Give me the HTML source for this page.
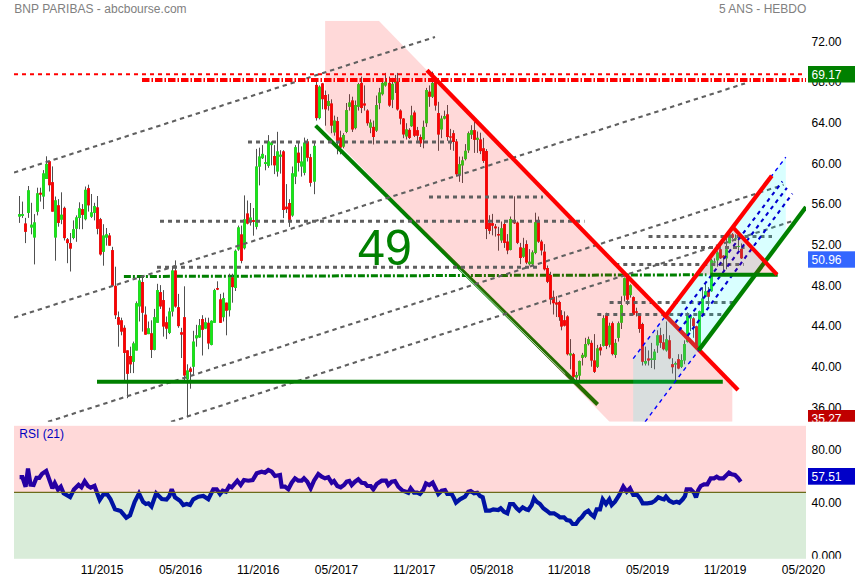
<!DOCTYPE html>
<html><head><meta charset="utf-8"><title>BNP PARIBAS</title>
<style>html,body{margin:0;padding:0;background:#fff}svg{display:block}text{font-family:"Liberation Sans",sans-serif;font-size:12px}</style></head><body>
<svg width="855" height="580" viewBox="0 0 855 580">
<rect width="855" height="580" fill="#fff"/>
<defs><clipPath id="mc"><rect x="14" y="20.8" width="792" height="401.0"/></clipPath><clipPath id="ax"><rect x="806" y="0" width="49" height="421.8"/></clipPath><clipPath id="rx"><rect x="806" y="425" width="49" height="133.8"/></clipPath></defs>
<g clip-path="url(#mc)">
</g>

<g clip-path="url(#mc)">
<line x1="123.9" y1="276.5" x2="706.5" y2="274.8" stroke="#008000" stroke-width="3" stroke-dasharray="7 2 2 2"/>
<line x1="19.5" y1="196.0" x2="19.5" y2="222.9" stroke="#505050" stroke-width="1"/>
<rect x="18.0" y="214.1" width="3" height="2.5" fill="#3cb43c"/>
<rect x="18.5" y="214.1" width="2" height="2.5" fill="#14ec14"/>
<line x1="22.5" y1="201.6" x2="22.5" y2="217.9" stroke="#505050" stroke-width="1"/>
<rect x="21.0" y="214.1" width="3" height="1.8" fill="#3cb43c"/>
<rect x="21.5" y="214.1" width="2" height="1.8" fill="#14ec14"/>
<line x1="25.5" y1="217.9" x2="25.5" y2="243.1" stroke="#505050" stroke-width="1"/>
<rect x="24.0" y="223.5" width="3" height="8.3" fill="#d02828"/>
<rect x="24.5" y="223.5" width="2" height="8.3" fill="#ff0000"/>
<line x1="28.5" y1="186.0" x2="28.5" y2="217.9" stroke="#505050" stroke-width="1"/>
<rect x="27.0" y="190.3" width="3" height="22.6" fill="#3cb43c"/>
<rect x="27.5" y="190.3" width="2" height="22.6" fill="#14ec14"/>
<line x1="31.5" y1="202.8" x2="31.5" y2="234.3" stroke="#505050" stroke-width="1"/>
<rect x="30.0" y="224.7" width="3" height="2.8" fill="#3cb43c"/>
<rect x="30.5" y="224.7" width="2" height="2.8" fill="#14ec14"/>
<line x1="34.5" y1="214.1" x2="34.5" y2="264.4" stroke="#505050" stroke-width="1"/>
<rect x="33.0" y="222.4" width="3" height="15.1" fill="#3cb43c"/>
<rect x="33.5" y="222.4" width="2" height="15.1" fill="#14ec14"/>
<line x1="37.5" y1="187.7" x2="37.5" y2="215.4" stroke="#505050" stroke-width="1"/>
<rect x="36.0" y="193.3" width="3" height="18.4" fill="#3cb43c"/>
<rect x="36.5" y="193.3" width="2" height="18.4" fill="#14ec14"/>
<line x1="40.5" y1="187.7" x2="40.5" y2="201.6" stroke="#505050" stroke-width="1"/>
<rect x="39.0" y="192.8" width="3" height="1.8" fill="#d02828"/>
<rect x="39.5" y="192.8" width="2" height="1.8" fill="#ff0000"/>
<line x1="43.5" y1="170.1" x2="43.5" y2="209.1" stroke="#505050" stroke-width="1"/>
<rect x="42.0" y="173.4" width="3" height="23.1" fill="#3cb43c"/>
<rect x="42.5" y="173.4" width="2" height="23.1" fill="#14ec14"/>
<line x1="46.5" y1="156.3" x2="46.5" y2="178.9" stroke="#505050" stroke-width="1"/>
<rect x="45.0" y="163.9" width="3" height="15.1" fill="#3cb43c"/>
<rect x="45.5" y="163.9" width="2" height="15.1" fill="#14ec14"/>
<line x1="49.5" y1="160.6" x2="49.5" y2="191.5" stroke="#505050" stroke-width="1"/>
<rect x="48.0" y="161.3" width="3" height="23.9" fill="#d02828"/>
<rect x="48.5" y="161.3" width="2" height="23.9" fill="#ff0000"/>
<line x1="52.5" y1="166.4" x2="52.5" y2="211.6" stroke="#505050" stroke-width="1"/>
<rect x="51.0" y="182.2" width="3" height="29.4" fill="#d02828"/>
<rect x="51.5" y="182.2" width="2" height="29.4" fill="#ff0000"/>
<line x1="55.5" y1="196.5" x2="55.5" y2="260.7" stroke="#505050" stroke-width="1"/>
<rect x="54.0" y="200.3" width="3" height="37.2" fill="#3cb43c"/>
<rect x="54.5" y="200.3" width="2" height="37.2" fill="#14ec14"/>
<line x1="58.5" y1="199.1" x2="58.5" y2="226.7" stroke="#505050" stroke-width="1"/>
<rect x="57.0" y="205.3" width="3" height="17.6" fill="#d02828"/>
<rect x="57.5" y="205.3" width="2" height="17.6" fill="#ff0000"/>
<line x1="61.5" y1="192.3" x2="61.5" y2="224.2" stroke="#505050" stroke-width="1"/>
<rect x="60.0" y="214.7" width="3" height="5.0" fill="#3cb43c"/>
<rect x="60.5" y="214.7" width="2" height="5.0" fill="#14ec14"/>
<line x1="64.5" y1="206.6" x2="64.5" y2="240.5" stroke="#505050" stroke-width="1"/>
<rect x="63.0" y="207.9" width="3" height="30.2" fill="#d02828"/>
<rect x="63.5" y="207.9" width="2" height="30.2" fill="#ff0000"/>
<line x1="67.5" y1="238.0" x2="67.5" y2="263.2" stroke="#505050" stroke-width="1"/>
<rect x="66.0" y="239.3" width="3" height="3.8" fill="#d02828"/>
<rect x="66.5" y="239.3" width="2" height="3.8" fill="#ff0000"/>
<line x1="70.5" y1="233.0" x2="70.5" y2="271.5" stroke="#505050" stroke-width="1"/>
<rect x="69.0" y="243.1" width="3" height="5.5" fill="#d02828"/>
<rect x="69.5" y="243.1" width="2" height="5.5" fill="#ff0000"/>
<line x1="73.5" y1="220.4" x2="73.5" y2="239.3" stroke="#505050" stroke-width="1"/>
<rect x="72.0" y="229.2" width="3" height="8.8" fill="#3cb43c"/>
<rect x="72.5" y="229.2" width="2" height="8.8" fill="#14ec14"/>
<line x1="76.5" y1="215.4" x2="76.5" y2="241.8" stroke="#505050" stroke-width="1"/>
<rect x="75.0" y="217.4" width="3" height="11.3" fill="#3cb43c"/>
<rect x="75.5" y="217.4" width="2" height="11.3" fill="#14ec14"/>
<line x1="79.5" y1="202.3" x2="79.5" y2="229.2" stroke="#505050" stroke-width="1"/>
<rect x="78.0" y="208.4" width="3" height="9.6" fill="#3cb43c"/>
<rect x="78.5" y="208.4" width="2" height="9.6" fill="#14ec14"/>
<line x1="82.5" y1="204.1" x2="82.5" y2="229.2" stroke="#505050" stroke-width="1"/>
<rect x="81.0" y="209.1" width="3" height="5.8" fill="#d02828"/>
<rect x="81.5" y="209.1" width="2" height="5.8" fill="#ff0000"/>
<line x1="85.5" y1="186.5" x2="85.5" y2="220.4" stroke="#505050" stroke-width="1"/>
<rect x="84.0" y="189.8" width="3" height="29.4" fill="#3cb43c"/>
<rect x="84.5" y="189.8" width="2" height="29.4" fill="#14ec14"/>
<line x1="88.5" y1="184.7" x2="88.5" y2="211.6" stroke="#505050" stroke-width="1"/>
<rect x="87.0" y="188.2" width="3" height="17.1" fill="#d02828"/>
<rect x="87.5" y="188.2" width="2" height="17.1" fill="#ff0000"/>
<line x1="91.5" y1="194.0" x2="91.5" y2="217.9" stroke="#505050" stroke-width="1"/>
<rect x="90.0" y="212.4" width="3" height="4.3" fill="#3cb43c"/>
<rect x="90.5" y="212.4" width="2" height="4.3" fill="#14ec14"/>
<line x1="94.5" y1="202.8" x2="94.5" y2="220.4" stroke="#505050" stroke-width="1"/>
<rect x="93.0" y="206.1" width="3" height="6.8" fill="#3cb43c"/>
<rect x="93.5" y="206.1" width="2" height="6.8" fill="#14ec14"/>
<line x1="97.5" y1="196.0" x2="97.5" y2="234.3" stroke="#505050" stroke-width="1"/>
<rect x="96.0" y="207.4" width="3" height="21.4" fill="#d02828"/>
<rect x="96.5" y="207.4" width="2" height="21.4" fill="#ff0000"/>
<line x1="100.5" y1="217.9" x2="100.5" y2="255.6" stroke="#505050" stroke-width="1"/>
<rect x="99.0" y="219.2" width="3" height="35.2" fill="#d02828"/>
<rect x="99.5" y="219.2" width="2" height="35.2" fill="#ff0000"/>
<line x1="103.5" y1="224.2" x2="103.5" y2="265.7" stroke="#505050" stroke-width="1"/>
<rect x="102.0" y="235.5" width="3" height="16.3" fill="#3cb43c"/>
<rect x="102.5" y="235.5" width="2" height="16.3" fill="#14ec14"/>
<line x1="106.5" y1="228.0" x2="106.5" y2="245.6" stroke="#505050" stroke-width="1"/>
<rect x="105.0" y="234.3" width="3" height="3.3" fill="#3cb43c"/>
<rect x="105.5" y="234.3" width="2" height="3.3" fill="#14ec14"/>
<line x1="109.5" y1="233.0" x2="109.5" y2="245.6" stroke="#505050" stroke-width="1"/>
<rect x="108.0" y="235.5" width="3" height="10.1" fill="#d02828"/>
<rect x="108.5" y="235.5" width="2" height="10.1" fill="#ff0000"/>
<line x1="112.5" y1="246.8" x2="112.5" y2="287.1" stroke="#505050" stroke-width="1"/>
<rect x="111.0" y="250.1" width="3" height="35.7" fill="#d02828"/>
<rect x="111.5" y="250.1" width="2" height="35.7" fill="#ff0000"/>
<line x1="115.5" y1="266.7" x2="115.5" y2="319.0" stroke="#505050" stroke-width="1"/>
<rect x="114.0" y="285.8" width="3" height="29.4" fill="#d02828"/>
<rect x="114.5" y="285.8" width="2" height="29.4" fill="#ff0000"/>
<line x1="118.5" y1="311.5" x2="118.5" y2="346.7" stroke="#505050" stroke-width="1"/>
<rect x="117.0" y="317.2" width="3" height="7.5" fill="#d02828"/>
<rect x="117.5" y="317.2" width="2" height="7.5" fill="#ff0000"/>
<line x1="121.5" y1="317.7" x2="121.5" y2="335.3" stroke="#505050" stroke-width="1"/>
<rect x="120.0" y="320.3" width="3" height="11.3" fill="#d02828"/>
<rect x="120.5" y="320.3" width="2" height="11.3" fill="#ff0000"/>
<line x1="124.5" y1="325.3" x2="124.5" y2="380.6" stroke="#505050" stroke-width="1"/>
<rect x="123.0" y="327.8" width="3" height="25.1" fill="#d02828"/>
<rect x="123.5" y="327.8" width="2" height="25.1" fill="#ff0000"/>
<line x1="127.5" y1="350.4" x2="127.5" y2="398.2" stroke="#505050" stroke-width="1"/>
<rect x="126.0" y="350.4" width="3" height="23.4" fill="#d02828"/>
<rect x="126.5" y="350.4" width="2" height="23.4" fill="#ff0000"/>
<line x1="130.5" y1="346.7" x2="130.5" y2="373.1" stroke="#505050" stroke-width="1"/>
<rect x="129.0" y="356.0" width="3" height="8.3" fill="#d02828"/>
<rect x="129.5" y="356.0" width="2" height="8.3" fill="#ff0000"/>
<line x1="133.5" y1="341.6" x2="133.5" y2="373.1" stroke="#505050" stroke-width="1"/>
<rect x="132.0" y="343.4" width="3" height="18.4" fill="#3cb43c"/>
<rect x="132.5" y="343.4" width="2" height="18.4" fill="#14ec14"/>
<line x1="136.5" y1="301.4" x2="136.5" y2="350.4" stroke="#505050" stroke-width="1"/>
<rect x="135.0" y="303.2" width="3" height="47.3" fill="#3cb43c"/>
<rect x="135.5" y="303.2" width="2" height="47.3" fill="#14ec14"/>
<line x1="139.5" y1="278.0" x2="139.5" y2="321.5" stroke="#505050" stroke-width="1"/>
<rect x="138.0" y="280.5" width="3" height="25.9" fill="#3cb43c"/>
<rect x="138.5" y="280.5" width="2" height="25.9" fill="#14ec14"/>
<line x1="142.5" y1="277.0" x2="142.5" y2="331.6" stroke="#505050" stroke-width="1"/>
<rect x="141.0" y="282.0" width="3" height="30.7" fill="#d02828"/>
<rect x="141.5" y="282.0" width="2" height="30.7" fill="#ff0000"/>
<line x1="145.5" y1="306.4" x2="145.5" y2="334.6" stroke="#505050" stroke-width="1"/>
<rect x="144.0" y="314.7" width="3" height="19.9" fill="#d02828"/>
<rect x="144.5" y="314.7" width="2" height="19.9" fill="#ff0000"/>
<line x1="148.5" y1="321.5" x2="148.5" y2="334.1" stroke="#505050" stroke-width="1"/>
<rect x="147.0" y="328.3" width="3" height="5.8" fill="#3cb43c"/>
<rect x="147.5" y="328.3" width="2" height="5.8" fill="#14ec14"/>
<line x1="151.5" y1="320.3" x2="151.5" y2="358.0" stroke="#505050" stroke-width="1"/>
<rect x="150.0" y="333.3" width="3" height="16.6" fill="#d02828"/>
<rect x="150.5" y="333.3" width="2" height="16.6" fill="#ff0000"/>
<line x1="154.5" y1="308.9" x2="154.5" y2="350.4" stroke="#505050" stroke-width="1"/>
<rect x="153.0" y="317.2" width="3" height="32.7" fill="#3cb43c"/>
<rect x="153.5" y="317.2" width="2" height="32.7" fill="#14ec14"/>
<line x1="157.5" y1="283.8" x2="157.5" y2="322.8" stroke="#505050" stroke-width="1"/>
<rect x="156.0" y="290.1" width="3" height="32.7" fill="#3cb43c"/>
<rect x="156.5" y="290.1" width="2" height="32.7" fill="#14ec14"/>
<line x1="160.5" y1="285.1" x2="160.5" y2="308.9" stroke="#505050" stroke-width="1"/>
<rect x="159.0" y="292.1" width="3" height="14.3" fill="#d02828"/>
<rect x="159.5" y="292.1" width="2" height="14.3" fill="#ff0000"/>
<line x1="163.5" y1="290.1" x2="163.5" y2="336.6" stroke="#505050" stroke-width="1"/>
<rect x="162.0" y="300.1" width="3" height="26.4" fill="#d02828"/>
<rect x="162.5" y="300.1" width="2" height="26.4" fill="#ff0000"/>
<line x1="166.5" y1="316.5" x2="166.5" y2="339.1" stroke="#505050" stroke-width="1"/>
<rect x="165.0" y="322.3" width="3" height="6.3" fill="#d02828"/>
<rect x="165.5" y="322.3" width="2" height="6.3" fill="#ff0000"/>
<line x1="169.5" y1="307.7" x2="169.5" y2="334.1" stroke="#505050" stroke-width="1"/>
<rect x="168.0" y="311.5" width="3" height="21.4" fill="#3cb43c"/>
<rect x="168.5" y="311.5" width="2" height="21.4" fill="#14ec14"/>
<line x1="172.5" y1="266.2" x2="172.5" y2="316.5" stroke="#505050" stroke-width="1"/>
<rect x="171.0" y="270.5" width="3" height="41.0" fill="#3cb43c"/>
<rect x="171.5" y="270.5" width="2" height="41.0" fill="#14ec14"/>
<line x1="175.5" y1="260.4" x2="175.5" y2="307.7" stroke="#505050" stroke-width="1"/>
<rect x="174.0" y="270.5" width="3" height="36.0" fill="#d02828"/>
<rect x="174.5" y="270.5" width="2" height="36.0" fill="#ff0000"/>
<line x1="178.5" y1="293.9" x2="178.5" y2="327.8" stroke="#505050" stroke-width="1"/>
<rect x="177.0" y="307.2" width="3" height="18.9" fill="#d02828"/>
<rect x="177.5" y="307.2" width="2" height="18.9" fill="#ff0000"/>
<line x1="181.5" y1="327.8" x2="181.5" y2="358.0" stroke="#505050" stroke-width="1"/>
<rect x="180.0" y="332.3" width="3" height="2.3" fill="#d02828"/>
<rect x="180.5" y="332.3" width="2" height="2.3" fill="#ff0000"/>
<line x1="184.5" y1="286.3" x2="184.5" y2="380.6" stroke="#505050" stroke-width="1"/>
<rect x="183.0" y="317.2" width="3" height="58.3" fill="#d02828"/>
<rect x="183.5" y="317.2" width="2" height="58.3" fill="#ff0000"/>
<line x1="187.5" y1="364.3" x2="187.5" y2="416.3" stroke="#505050" stroke-width="1"/>
<rect x="186.0" y="370.5" width="3" height="8.8" fill="#3cb43c"/>
<rect x="186.5" y="370.5" width="2" height="8.8" fill="#14ec14"/>
<line x1="190.5" y1="366.8" x2="190.5" y2="388.7" stroke="#505050" stroke-width="1"/>
<rect x="189.0" y="368.5" width="3" height="3.3" fill="#d02828"/>
<rect x="189.5" y="368.5" width="2" height="3.3" fill="#ff0000"/>
<line x1="193.5" y1="330.8" x2="193.5" y2="374.3" stroke="#505050" stroke-width="1"/>
<rect x="192.0" y="341.6" width="3" height="25.1" fill="#3cb43c"/>
<rect x="192.5" y="341.6" width="2" height="25.1" fill="#14ec14"/>
<line x1="196.5" y1="324.8" x2="196.5" y2="346.7" stroke="#505050" stroke-width="1"/>
<rect x="195.0" y="335.3" width="3" height="3.0" fill="#3cb43c"/>
<rect x="195.5" y="335.3" width="2" height="3.0" fill="#14ec14"/>
<line x1="199.5" y1="319.0" x2="199.5" y2="337.9" stroke="#505050" stroke-width="1"/>
<rect x="198.0" y="325.3" width="3" height="12.1" fill="#3cb43c"/>
<rect x="198.5" y="325.3" width="2" height="12.1" fill="#14ec14"/>
<line x1="202.5" y1="315.2" x2="202.5" y2="355.5" stroke="#505050" stroke-width="1"/>
<rect x="201.0" y="319.0" width="3" height="10.8" fill="#d02828"/>
<rect x="201.5" y="319.0" width="2" height="10.8" fill="#ff0000"/>
<line x1="205.5" y1="317.7" x2="205.5" y2="329.1" stroke="#505050" stroke-width="1"/>
<rect x="204.0" y="322.3" width="3" height="6.3" fill="#3cb43c"/>
<rect x="204.5" y="322.3" width="2" height="6.3" fill="#14ec14"/>
<line x1="208.5" y1="317.7" x2="208.5" y2="349.2" stroke="#505050" stroke-width="1"/>
<rect x="207.0" y="322.8" width="3" height="20.6" fill="#d02828"/>
<rect x="207.5" y="322.8" width="2" height="20.6" fill="#ff0000"/>
<line x1="211.5" y1="320.3" x2="211.5" y2="345.4" stroke="#505050" stroke-width="1"/>
<rect x="210.0" y="320.8" width="3" height="24.1" fill="#3cb43c"/>
<rect x="210.5" y="320.8" width="2" height="24.1" fill="#14ec14"/>
<line x1="214.5" y1="288.8" x2="214.5" y2="322.8" stroke="#505050" stroke-width="1"/>
<rect x="213.0" y="290.1" width="3" height="32.7" fill="#3cb43c"/>
<rect x="213.5" y="290.1" width="2" height="32.7" fill="#14ec14"/>
<line x1="217.5" y1="281.3" x2="217.5" y2="290.1" stroke="#505050" stroke-width="1"/>
<rect x="216.0" y="288.1" width="3" height="1.5" fill="#d02828"/>
<rect x="216.5" y="288.1" width="2" height="1.5" fill="#ff0000"/>
<line x1="220.5" y1="293.9" x2="220.5" y2="322.8" stroke="#505050" stroke-width="1"/>
<rect x="219.0" y="299.4" width="3" height="23.4" fill="#d02828"/>
<rect x="219.5" y="299.4" width="2" height="23.4" fill="#ff0000"/>
<line x1="223.5" y1="292.6" x2="223.5" y2="321.5" stroke="#505050" stroke-width="1"/>
<rect x="222.0" y="298.1" width="3" height="19.1" fill="#3cb43c"/>
<rect x="222.5" y="298.1" width="2" height="19.1" fill="#14ec14"/>
<line x1="226.5" y1="302.7" x2="226.5" y2="335.3" stroke="#505050" stroke-width="1"/>
<rect x="225.0" y="302.7" width="3" height="8.0" fill="#d02828"/>
<rect x="225.5" y="302.7" width="2" height="8.0" fill="#ff0000"/>
<line x1="229.5" y1="273.7" x2="229.5" y2="316.5" stroke="#505050" stroke-width="1"/>
<rect x="228.0" y="277.5" width="3" height="32.7" fill="#3cb43c"/>
<rect x="228.5" y="277.5" width="2" height="32.7" fill="#14ec14"/>
<line x1="232.5" y1="273.7" x2="232.5" y2="302.7" stroke="#505050" stroke-width="1"/>
<rect x="231.0" y="277.5" width="3" height="9.6" fill="#d02828"/>
<rect x="231.5" y="277.5" width="2" height="9.6" fill="#ff0000"/>
<line x1="235.5" y1="249.5" x2="235.5" y2="291.0" stroke="#505050" stroke-width="1"/>
<rect x="234.0" y="250.8" width="3" height="37.2" fill="#3cb43c"/>
<rect x="234.5" y="250.8" width="2" height="37.2" fill="#14ec14"/>
<line x1="238.5" y1="225.6" x2="238.5" y2="250.8" stroke="#505050" stroke-width="1"/>
<rect x="237.0" y="227.4" width="3" height="22.1" fill="#3cb43c"/>
<rect x="237.5" y="227.4" width="2" height="22.1" fill="#14ec14"/>
<line x1="241.5" y1="225.6" x2="241.5" y2="263.3" stroke="#505050" stroke-width="1"/>
<rect x="240.0" y="234.4" width="3" height="26.4" fill="#d02828"/>
<rect x="240.5" y="234.4" width="2" height="26.4" fill="#ff0000"/>
<line x1="244.5" y1="195.4" x2="244.5" y2="249.5" stroke="#505050" stroke-width="1"/>
<rect x="243.0" y="219.3" width="3" height="28.9" fill="#3cb43c"/>
<rect x="243.5" y="219.3" width="2" height="28.9" fill="#14ec14"/>
<line x1="247.5" y1="200.5" x2="247.5" y2="224.4" stroke="#505050" stroke-width="1"/>
<rect x="246.0" y="213.5" width="3" height="10.1" fill="#d02828"/>
<rect x="246.5" y="213.5" width="2" height="10.1" fill="#ff0000"/>
<line x1="250.5" y1="203.0" x2="250.5" y2="225.6" stroke="#505050" stroke-width="1"/>
<rect x="249.0" y="217.6" width="3" height="3.8" fill="#3cb43c"/>
<rect x="249.5" y="217.6" width="2" height="3.8" fill="#14ec14"/>
<line x1="253.5" y1="208.0" x2="253.5" y2="235.7" stroke="#505050" stroke-width="1"/>
<rect x="252.0" y="220.1" width="3" height="1.8" fill="#d02828"/>
<rect x="252.5" y="220.1" width="2" height="1.8" fill="#ff0000"/>
<line x1="256.5" y1="148.9" x2="256.5" y2="229.4" stroke="#505050" stroke-width="1"/>
<rect x="255.0" y="166.5" width="3" height="60.3" fill="#3cb43c"/>
<rect x="255.5" y="166.5" width="2" height="60.3" fill="#14ec14"/>
<line x1="259.5" y1="147.7" x2="259.5" y2="185.4" stroke="#505050" stroke-width="1"/>
<rect x="258.0" y="156.5" width="3" height="10.1" fill="#3cb43c"/>
<rect x="258.5" y="156.5" width="2" height="10.1" fill="#14ec14"/>
<line x1="262.5" y1="145.1" x2="262.5" y2="159.0" stroke="#505050" stroke-width="1"/>
<rect x="261.0" y="153.9" width="3" height="4.3" fill="#3cb43c"/>
<rect x="261.5" y="153.9" width="2" height="4.3" fill="#14ec14"/>
<line x1="265.5" y1="155.2" x2="265.5" y2="170.3" stroke="#505050" stroke-width="1"/>
<rect x="264.0" y="162.2" width="3" height="1.8" fill="#3cb43c"/>
<rect x="264.5" y="162.2" width="2" height="1.8" fill="#14ec14"/>
<line x1="268.5" y1="135.1" x2="268.5" y2="167.8" stroke="#505050" stroke-width="1"/>
<rect x="267.0" y="141.4" width="3" height="24.4" fill="#3cb43c"/>
<rect x="267.5" y="141.4" width="2" height="24.4" fill="#14ec14"/>
<line x1="271.5" y1="141.4" x2="271.5" y2="165.3" stroke="#505050" stroke-width="1"/>
<rect x="270.0" y="142.6" width="3" height="2.5" fill="#3cb43c"/>
<rect x="270.5" y="142.6" width="2" height="2.5" fill="#14ec14"/>
<line x1="274.5" y1="145.1" x2="274.5" y2="174.1" stroke="#505050" stroke-width="1"/>
<rect x="273.0" y="156.0" width="3" height="9.3" fill="#d02828"/>
<rect x="273.5" y="156.0" width="2" height="9.3" fill="#ff0000"/>
<line x1="277.5" y1="131.8" x2="277.5" y2="176.6" stroke="#505050" stroke-width="1"/>
<rect x="276.0" y="151.4" width="3" height="20.1" fill="#3cb43c"/>
<rect x="276.5" y="151.4" width="2" height="20.1" fill="#14ec14"/>
<line x1="280.5" y1="150.2" x2="280.5" y2="173.6" stroke="#505050" stroke-width="1"/>
<rect x="279.0" y="154.7" width="3" height="2.0" fill="#3cb43c"/>
<rect x="279.5" y="154.7" width="2" height="2.0" fill="#14ec14"/>
<line x1="283.5" y1="150.2" x2="283.5" y2="218.1" stroke="#505050" stroke-width="1"/>
<rect x="282.0" y="151.4" width="3" height="58.6" fill="#d02828"/>
<rect x="282.5" y="151.4" width="2" height="58.6" fill="#ff0000"/>
<line x1="286.5" y1="184.1" x2="286.5" y2="213.0" stroke="#505050" stroke-width="1"/>
<rect x="285.0" y="206.7" width="3" height="2.5" fill="#d02828"/>
<rect x="285.5" y="206.7" width="2" height="2.5" fill="#ff0000"/>
<line x1="289.5" y1="199.2" x2="289.5" y2="226.9" stroke="#505050" stroke-width="1"/>
<rect x="288.0" y="203.0" width="3" height="16.8" fill="#d02828"/>
<rect x="288.5" y="203.0" width="2" height="16.8" fill="#ff0000"/>
<line x1="292.5" y1="166.5" x2="292.5" y2="216.8" stroke="#505050" stroke-width="1"/>
<rect x="291.0" y="173.3" width="3" height="42.2" fill="#3cb43c"/>
<rect x="291.5" y="173.3" width="2" height="42.2" fill="#14ec14"/>
<line x1="295.5" y1="145.1" x2="295.5" y2="184.1" stroke="#505050" stroke-width="1"/>
<rect x="294.0" y="147.2" width="3" height="29.4" fill="#3cb43c"/>
<rect x="294.5" y="147.2" width="2" height="29.4" fill="#14ec14"/>
<line x1="298.5" y1="142.6" x2="298.5" y2="171.5" stroke="#505050" stroke-width="1"/>
<rect x="297.0" y="152.7" width="3" height="10.1" fill="#d02828"/>
<rect x="297.5" y="152.7" width="2" height="10.1" fill="#ff0000"/>
<line x1="301.5" y1="146.4" x2="301.5" y2="176.6" stroke="#505050" stroke-width="1"/>
<rect x="300.0" y="161.5" width="3" height="5.0" fill="#3cb43c"/>
<rect x="300.5" y="161.5" width="2" height="5.0" fill="#14ec14"/>
<line x1="304.5" y1="137.6" x2="304.5" y2="175.3" stroke="#505050" stroke-width="1"/>
<rect x="303.0" y="142.6" width="3" height="30.2" fill="#3cb43c"/>
<rect x="303.5" y="142.6" width="2" height="30.2" fill="#14ec14"/>
<line x1="307.5" y1="138.9" x2="307.5" y2="161.5" stroke="#505050" stroke-width="1"/>
<rect x="306.0" y="141.4" width="3" height="16.3" fill="#d02828"/>
<rect x="306.5" y="141.4" width="2" height="16.3" fill="#ff0000"/>
<line x1="310.5" y1="153.9" x2="310.5" y2="186.6" stroke="#505050" stroke-width="1"/>
<rect x="309.0" y="157.2" width="3" height="25.6" fill="#d02828"/>
<rect x="309.5" y="157.2" width="2" height="25.6" fill="#ff0000"/>
<line x1="314.5" y1="141.4" x2="314.5" y2="194.2" stroke="#505050" stroke-width="1"/>
<rect x="313.0" y="145.9" width="3" height="35.7" fill="#3cb43c"/>
<rect x="313.5" y="145.9" width="2" height="35.7" fill="#14ec14"/>
<line x1="316.5" y1="81.7" x2="316.5" y2="120.6" stroke="#505050" stroke-width="1"/>
<rect x="315.0" y="84.9" width="3" height="33.2" fill="#d02828"/>
<rect x="315.5" y="84.9" width="2" height="33.2" fill="#ff0000"/>
<line x1="319.5" y1="85.4" x2="319.5" y2="119.4" stroke="#505050" stroke-width="1"/>
<rect x="318.0" y="86.7" width="3" height="31.4" fill="#3cb43c"/>
<rect x="318.5" y="86.7" width="2" height="31.4" fill="#14ec14"/>
<line x1="322.5" y1="82.9" x2="322.5" y2="109.3" stroke="#505050" stroke-width="1"/>
<rect x="321.0" y="83.4" width="3" height="15.8" fill="#d02828"/>
<rect x="321.5" y="83.4" width="2" height="15.8" fill="#ff0000"/>
<line x1="325.5" y1="90.5" x2="325.5" y2="125.7" stroke="#505050" stroke-width="1"/>
<rect x="324.0" y="95.0" width="3" height="14.3" fill="#d02828"/>
<rect x="324.5" y="95.0" width="2" height="14.3" fill="#ff0000"/>
<line x1="328.5" y1="94.2" x2="328.5" y2="110.6" stroke="#505050" stroke-width="1"/>
<rect x="327.0" y="101.0" width="3" height="5.0" fill="#3cb43c"/>
<rect x="327.5" y="101.0" width="2" height="5.0" fill="#14ec14"/>
<line x1="331.5" y1="99.3" x2="331.5" y2="133.2" stroke="#505050" stroke-width="1"/>
<rect x="330.0" y="103.5" width="3" height="22.1" fill="#d02828"/>
<rect x="330.5" y="103.5" width="2" height="22.1" fill="#ff0000"/>
<line x1="334.5" y1="115.6" x2="334.5" y2="135.7" stroke="#505050" stroke-width="1"/>
<rect x="333.0" y="120.6" width="3" height="11.8" fill="#3cb43c"/>
<rect x="333.5" y="120.6" width="2" height="11.8" fill="#14ec14"/>
<line x1="337.5" y1="116.9" x2="337.5" y2="154.3" stroke="#505050" stroke-width="1"/>
<rect x="336.0" y="121.1" width="3" height="19.9" fill="#d02828"/>
<rect x="336.5" y="121.1" width="2" height="19.9" fill="#ff0000"/>
<line x1="340.5" y1="130.7" x2="340.5" y2="154.3" stroke="#505050" stroke-width="1"/>
<rect x="339.0" y="137.5" width="3" height="10.1" fill="#d02828"/>
<rect x="339.5" y="137.5" width="2" height="10.1" fill="#ff0000"/>
<line x1="343.5" y1="133.2" x2="343.5" y2="148.3" stroke="#505050" stroke-width="1"/>
<rect x="342.0" y="135.0" width="3" height="11.6" fill="#3cb43c"/>
<rect x="342.5" y="135.0" width="2" height="11.6" fill="#14ec14"/>
<line x1="346.5" y1="103.0" x2="346.5" y2="133.2" stroke="#505050" stroke-width="1"/>
<rect x="345.0" y="110.1" width="3" height="21.9" fill="#3cb43c"/>
<rect x="345.5" y="110.1" width="2" height="21.9" fill="#14ec14"/>
<line x1="349.5" y1="94.2" x2="349.5" y2="110.6" stroke="#505050" stroke-width="1"/>
<rect x="348.0" y="102.5" width="3" height="4.3" fill="#3cb43c"/>
<rect x="348.5" y="102.5" width="2" height="4.3" fill="#14ec14"/>
<line x1="352.5" y1="96.7" x2="352.5" y2="132.0" stroke="#505050" stroke-width="1"/>
<rect x="351.0" y="100.5" width="3" height="28.9" fill="#d02828"/>
<rect x="351.5" y="100.5" width="2" height="28.9" fill="#ff0000"/>
<line x1="355.5" y1="100.5" x2="355.5" y2="129.4" stroke="#505050" stroke-width="1"/>
<rect x="354.0" y="105.0" width="3" height="23.1" fill="#3cb43c"/>
<rect x="354.5" y="105.0" width="2" height="23.1" fill="#14ec14"/>
<line x1="358.5" y1="82.9" x2="358.5" y2="110.6" stroke="#505050" stroke-width="1"/>
<rect x="357.0" y="84.2" width="3" height="22.6" fill="#3cb43c"/>
<rect x="357.5" y="84.2" width="2" height="22.6" fill="#14ec14"/>
<line x1="361.5" y1="76.6" x2="361.5" y2="113.1" stroke="#505050" stroke-width="1"/>
<rect x="360.0" y="82.9" width="3" height="25.1" fill="#d02828"/>
<rect x="360.5" y="82.9" width="2" height="25.1" fill="#ff0000"/>
<line x1="364.5" y1="85.4" x2="364.5" y2="110.6" stroke="#505050" stroke-width="1"/>
<rect x="363.0" y="103.5" width="3" height="2.0" fill="#d02828"/>
<rect x="363.5" y="103.5" width="2" height="2.0" fill="#ff0000"/>
<line x1="367.5" y1="109.3" x2="367.5" y2="125.7" stroke="#505050" stroke-width="1"/>
<rect x="366.0" y="110.6" width="3" height="12.6" fill="#d02828"/>
<rect x="366.5" y="110.6" width="2" height="12.6" fill="#ff0000"/>
<line x1="370.5" y1="119.4" x2="370.5" y2="133.2" stroke="#505050" stroke-width="1"/>
<rect x="369.0" y="122.6" width="3" height="5.0" fill="#3cb43c"/>
<rect x="369.5" y="122.6" width="2" height="5.0" fill="#14ec14"/>
<line x1="373.5" y1="120.6" x2="373.5" y2="144.5" stroke="#505050" stroke-width="1"/>
<rect x="372.0" y="126.9" width="3" height="10.1" fill="#d02828"/>
<rect x="372.5" y="126.9" width="2" height="10.1" fill="#ff0000"/>
<line x1="376.5" y1="95.5" x2="376.5" y2="132.0" stroke="#505050" stroke-width="1"/>
<rect x="375.0" y="105.0" width="3" height="25.6" fill="#3cb43c"/>
<rect x="375.5" y="105.0" width="2" height="25.6" fill="#14ec14"/>
<line x1="379.5" y1="87.9" x2="379.5" y2="109.3" stroke="#505050" stroke-width="1"/>
<rect x="378.0" y="92.5" width="3" height="10.6" fill="#3cb43c"/>
<rect x="378.5" y="92.5" width="2" height="10.6" fill="#14ec14"/>
<line x1="382.5" y1="81.7" x2="382.5" y2="95.5" stroke="#505050" stroke-width="1"/>
<rect x="381.0" y="82.9" width="3" height="11.3" fill="#3cb43c"/>
<rect x="381.5" y="82.9" width="2" height="11.3" fill="#14ec14"/>
<line x1="385.5" y1="72.9" x2="385.5" y2="86.7" stroke="#505050" stroke-width="1"/>
<rect x="384.0" y="81.7" width="3" height="3.8" fill="#3cb43c"/>
<rect x="384.5" y="81.7" width="2" height="3.8" fill="#14ec14"/>
<line x1="389.5" y1="76.6" x2="389.5" y2="106.8" stroke="#505050" stroke-width="1"/>
<rect x="388.0" y="82.9" width="3" height="22.6" fill="#d02828"/>
<rect x="388.5" y="82.9" width="2" height="22.6" fill="#ff0000"/>
<line x1="392.5" y1="77.9" x2="392.5" y2="108.1" stroke="#505050" stroke-width="1"/>
<rect x="391.0" y="83.9" width="3" height="15.8" fill="#3cb43c"/>
<rect x="391.5" y="83.9" width="2" height="15.8" fill="#14ec14"/>
<line x1="395.5" y1="74.9" x2="395.5" y2="93.0" stroke="#505050" stroke-width="1"/>
<rect x="394.0" y="81.9" width="3" height="1.3" fill="#3cb43c"/>
<rect x="394.5" y="81.9" width="2" height="1.3" fill="#14ec14"/>
<line x1="397.5" y1="72.9" x2="397.5" y2="110.6" stroke="#505050" stroke-width="1"/>
<rect x="396.0" y="81.7" width="3" height="27.7" fill="#d02828"/>
<rect x="396.5" y="81.7" width="2" height="27.7" fill="#ff0000"/>
<line x1="400.5" y1="109.3" x2="400.5" y2="124.4" stroke="#505050" stroke-width="1"/>
<rect x="399.0" y="110.6" width="3" height="8.0" fill="#d02828"/>
<rect x="399.5" y="110.6" width="2" height="8.0" fill="#ff0000"/>
<line x1="403.5" y1="118.1" x2="403.5" y2="138.2" stroke="#505050" stroke-width="1"/>
<rect x="402.0" y="118.6" width="3" height="15.8" fill="#d02828"/>
<rect x="402.5" y="118.6" width="2" height="15.8" fill="#ff0000"/>
<line x1="406.5" y1="123.2" x2="406.5" y2="139.5" stroke="#505050" stroke-width="1"/>
<rect x="405.0" y="129.4" width="3" height="7.0" fill="#3cb43c"/>
<rect x="405.5" y="129.4" width="2" height="7.0" fill="#14ec14"/>
<line x1="409.5" y1="128.2" x2="409.5" y2="139.0" stroke="#505050" stroke-width="1"/>
<rect x="408.0" y="129.9" width="3" height="8.0" fill="#d02828"/>
<rect x="408.5" y="129.9" width="2" height="8.0" fill="#ff0000"/>
<line x1="411.5" y1="105.8" x2="411.5" y2="126.9" stroke="#505050" stroke-width="1"/>
<rect x="410.0" y="115.4" width="3" height="10.8" fill="#3cb43c"/>
<rect x="410.5" y="115.4" width="2" height="10.8" fill="#14ec14"/>
<line x1="414.5" y1="110.6" x2="414.5" y2="137.0" stroke="#505050" stroke-width="1"/>
<rect x="413.0" y="112.6" width="3" height="23.1" fill="#d02828"/>
<rect x="413.5" y="112.6" width="2" height="23.1" fill="#ff0000"/>
<line x1="417.5" y1="126.9" x2="417.5" y2="140.8" stroke="#505050" stroke-width="1"/>
<rect x="416.0" y="130.2" width="3" height="5.5" fill="#d02828"/>
<rect x="416.5" y="130.2" width="2" height="5.5" fill="#ff0000"/>
<line x1="420.5" y1="134.5" x2="420.5" y2="147.0" stroke="#505050" stroke-width="1"/>
<rect x="419.0" y="137.0" width="3" height="6.3" fill="#d02828"/>
<rect x="419.5" y="137.0" width="2" height="6.3" fill="#ff0000"/>
<line x1="423.5" y1="120.6" x2="423.5" y2="148.3" stroke="#505050" stroke-width="1"/>
<rect x="422.0" y="126.9" width="3" height="12.6" fill="#3cb43c"/>
<rect x="422.5" y="126.9" width="2" height="12.6" fill="#14ec14"/>
<line x1="426.5" y1="87.9" x2="426.5" y2="126.9" stroke="#505050" stroke-width="1"/>
<rect x="425.0" y="90.0" width="3" height="33.2" fill="#3cb43c"/>
<rect x="425.5" y="90.0" width="2" height="33.2" fill="#14ec14"/>
<line x1="429.5" y1="85.4" x2="429.5" y2="106.8" stroke="#505050" stroke-width="1"/>
<rect x="428.0" y="91.7" width="3" height="5.0" fill="#d02828"/>
<rect x="428.5" y="91.7" width="2" height="5.0" fill="#ff0000"/>
<line x1="432.5" y1="71.6" x2="432.5" y2="98.0" stroke="#505050" stroke-width="1"/>
<rect x="431.0" y="82.9" width="3" height="13.8" fill="#3cb43c"/>
<rect x="431.5" y="82.9" width="2" height="13.8" fill="#14ec14"/>
<line x1="435.5" y1="77.9" x2="435.5" y2="110.6" stroke="#505050" stroke-width="1"/>
<rect x="434.0" y="80.4" width="3" height="25.1" fill="#d02828"/>
<rect x="434.5" y="80.4" width="2" height="25.1" fill="#ff0000"/>
<line x1="438.5" y1="101.8" x2="438.5" y2="150.8" stroke="#505050" stroke-width="1"/>
<rect x="437.0" y="113.1" width="3" height="21.4" fill="#d02828"/>
<rect x="437.5" y="113.1" width="2" height="21.4" fill="#ff0000"/>
<line x1="441.5" y1="115.6" x2="441.5" y2="138.2" stroke="#505050" stroke-width="1"/>
<rect x="440.0" y="118.6" width="3" height="10.8" fill="#3cb43c"/>
<rect x="440.5" y="118.6" width="2" height="10.8" fill="#14ec14"/>
<line x1="444.5" y1="110.6" x2="444.5" y2="119.4" stroke="#505050" stroke-width="1"/>
<rect x="443.0" y="116.1" width="3" height="2.5" fill="#3cb43c"/>
<rect x="443.5" y="116.1" width="2" height="2.5" fill="#14ec14"/>
<line x1="447.5" y1="105.0" x2="447.5" y2="140.8" stroke="#505050" stroke-width="1"/>
<rect x="446.0" y="114.4" width="3" height="22.6" fill="#d02828"/>
<rect x="446.5" y="114.4" width="2" height="22.6" fill="#ff0000"/>
<line x1="450.5" y1="128.9" x2="450.5" y2="149.8" stroke="#505050" stroke-width="1"/>
<rect x="449.0" y="136.5" width="3" height="1.0" fill="#d02828"/>
<rect x="449.5" y="136.5" width="2" height="1.0" fill="#ff0000"/>
<line x1="453.5" y1="130.2" x2="453.5" y2="150.8" stroke="#505050" stroke-width="1"/>
<rect x="452.0" y="133.2" width="3" height="8.8" fill="#d02828"/>
<rect x="452.5" y="133.2" width="2" height="8.8" fill="#ff0000"/>
<line x1="456.5" y1="139.0" x2="456.5" y2="176.7" stroke="#505050" stroke-width="1"/>
<rect x="455.0" y="141.5" width="3" height="32.7" fill="#d02828"/>
<rect x="455.5" y="141.5" width="2" height="32.7" fill="#ff0000"/>
<line x1="459.5" y1="156.6" x2="459.5" y2="181.8" stroke="#505050" stroke-width="1"/>
<rect x="458.0" y="164.2" width="3" height="10.1" fill="#3cb43c"/>
<rect x="458.5" y="164.2" width="2" height="10.1" fill="#14ec14"/>
<line x1="462.5" y1="156.6" x2="462.5" y2="183.0" stroke="#505050" stroke-width="1"/>
<rect x="461.0" y="160.4" width="3" height="5.0" fill="#3cb43c"/>
<rect x="461.5" y="160.4" width="2" height="5.0" fill="#14ec14"/>
<line x1="465.5" y1="144.1" x2="465.5" y2="160.4" stroke="#505050" stroke-width="1"/>
<rect x="464.0" y="150.8" width="3" height="8.3" fill="#3cb43c"/>
<rect x="464.5" y="150.8" width="2" height="8.3" fill="#14ec14"/>
<line x1="468.5" y1="131.5" x2="468.5" y2="152.9" stroke="#505050" stroke-width="1"/>
<rect x="467.0" y="133.2" width="3" height="17.1" fill="#3cb43c"/>
<rect x="467.5" y="133.2" width="2" height="17.1" fill="#14ec14"/>
<line x1="471.5" y1="125.2" x2="471.5" y2="139.0" stroke="#505050" stroke-width="1"/>
<rect x="470.0" y="130.2" width="3" height="4.5" fill="#3cb43c"/>
<rect x="470.5" y="130.2" width="2" height="4.5" fill="#14ec14"/>
<line x1="474.5" y1="121.4" x2="474.5" y2="152.9" stroke="#505050" stroke-width="1"/>
<rect x="473.0" y="130.2" width="3" height="9.6" fill="#d02828"/>
<rect x="473.5" y="130.2" width="2" height="9.6" fill="#ff0000"/>
<line x1="477.5" y1="131.5" x2="477.5" y2="152.9" stroke="#505050" stroke-width="1"/>
<rect x="476.0" y="137.8" width="3" height="2.0" fill="#3cb43c"/>
<rect x="476.5" y="137.8" width="2" height="2.0" fill="#14ec14"/>
<line x1="480.5" y1="132.7" x2="480.5" y2="154.1" stroke="#505050" stroke-width="1"/>
<rect x="479.0" y="139.5" width="3" height="11.6" fill="#d02828"/>
<rect x="479.5" y="139.5" width="2" height="11.6" fill="#ff0000"/>
<line x1="483.5" y1="137.8" x2="483.5" y2="162.9" stroke="#505050" stroke-width="1"/>
<rect x="482.0" y="148.3" width="3" height="12.6" fill="#d02828"/>
<rect x="482.5" y="148.3" width="2" height="12.6" fill="#ff0000"/>
<line x1="486.5" y1="149.1" x2="486.5" y2="166.7" stroke="#505050" stroke-width="1"/>
<rect x="485.0" y="151.6" width="3" height="13.8" fill="#d02828"/>
<rect x="485.5" y="151.6" width="2" height="13.8" fill="#ff0000"/>
<line x1="486.5" y1="149.8" x2="486.5" y2="239.1" stroke="#505050" stroke-width="1"/>
<rect x="485.0" y="151.1" width="3" height="77.9" fill="#d02828"/>
<rect x="485.5" y="151.1" width="2" height="77.9" fill="#ff0000"/>
<line x1="489.5" y1="215.2" x2="489.5" y2="234.1" stroke="#505050" stroke-width="1"/>
<rect x="488.0" y="223.0" width="3" height="7.8" fill="#d02828"/>
<rect x="488.5" y="223.0" width="2" height="7.8" fill="#ff0000"/>
<line x1="492.5" y1="213.9" x2="492.5" y2="235.3" stroke="#505050" stroke-width="1"/>
<rect x="491.0" y="223.2" width="3" height="2.5" fill="#d02828"/>
<rect x="491.5" y="223.2" width="2" height="2.5" fill="#ff0000"/>
<line x1="495.5" y1="224.0" x2="495.5" y2="236.6" stroke="#505050" stroke-width="1"/>
<rect x="494.0" y="226.5" width="3" height="1.8" fill="#d02828"/>
<rect x="494.5" y="226.5" width="2" height="1.8" fill="#ff0000"/>
<line x1="498.5" y1="226.8" x2="498.5" y2="250.7" stroke="#505050" stroke-width="1"/>
<rect x="497.0" y="234.1" width="3" height="1.3" fill="#d02828"/>
<rect x="497.5" y="234.1" width="2" height="1.3" fill="#ff0000"/>
<line x1="501.5" y1="221.5" x2="501.5" y2="242.9" stroke="#505050" stroke-width="1"/>
<rect x="500.0" y="228.3" width="3" height="12.1" fill="#3cb43c"/>
<rect x="500.5" y="228.3" width="2" height="12.1" fill="#14ec14"/>
<line x1="504.5" y1="220.2" x2="504.5" y2="247.9" stroke="#505050" stroke-width="1"/>
<rect x="503.0" y="224.0" width="3" height="18.9" fill="#d02828"/>
<rect x="503.5" y="224.0" width="2" height="18.9" fill="#ff0000"/>
<line x1="507.5" y1="234.1" x2="507.5" y2="254.2" stroke="#505050" stroke-width="1"/>
<rect x="506.0" y="241.6" width="3" height="8.8" fill="#d02828"/>
<rect x="506.5" y="241.6" width="2" height="8.8" fill="#ff0000"/>
<line x1="510.5" y1="216.5" x2="510.5" y2="250.4" stroke="#505050" stroke-width="1"/>
<rect x="509.0" y="219.0" width="3" height="30.9" fill="#3cb43c"/>
<rect x="509.5" y="219.0" width="2" height="30.9" fill="#14ec14"/>
<line x1="514.5" y1="196.3" x2="514.5" y2="224.0" stroke="#505050" stroke-width="1"/>
<rect x="513.0" y="221.5" width="3" height="1.8" fill="#d02828"/>
<rect x="513.5" y="221.5" width="2" height="1.8" fill="#ff0000"/>
<line x1="517.5" y1="221.5" x2="517.5" y2="244.1" stroke="#505050" stroke-width="1"/>
<rect x="516.0" y="222.7" width="3" height="20.1" fill="#d02828"/>
<rect x="516.5" y="222.7" width="2" height="20.1" fill="#ff0000"/>
<line x1="520.5" y1="242.9" x2="520.5" y2="264.2" stroke="#505050" stroke-width="1"/>
<rect x="519.0" y="247.4" width="3" height="10.6" fill="#d02828"/>
<rect x="519.5" y="247.4" width="2" height="10.6" fill="#ff0000"/>
<line x1="523.5" y1="237.8" x2="523.5" y2="257.9" stroke="#505050" stroke-width="1"/>
<rect x="522.0" y="247.9" width="3" height="8.8" fill="#3cb43c"/>
<rect x="522.5" y="247.9" width="2" height="8.8" fill="#14ec14"/>
<line x1="526.5" y1="240.3" x2="526.5" y2="264.2" stroke="#505050" stroke-width="1"/>
<rect x="525.0" y="244.1" width="3" height="18.4" fill="#d02828"/>
<rect x="525.5" y="244.1" width="2" height="18.4" fill="#ff0000"/>
<line x1="529.5" y1="249.1" x2="529.5" y2="265.5" stroke="#505050" stroke-width="1"/>
<rect x="528.0" y="261.7" width="3" height="2.5" fill="#3cb43c"/>
<rect x="528.5" y="261.7" width="2" height="2.5" fill="#14ec14"/>
<line x1="532.5" y1="250.4" x2="532.5" y2="265.5" stroke="#505050" stroke-width="1"/>
<rect x="531.0" y="252.4" width="3" height="11.8" fill="#3cb43c"/>
<rect x="531.5" y="252.4" width="2" height="11.8" fill="#14ec14"/>
<line x1="535.5" y1="212.7" x2="535.5" y2="254.2" stroke="#505050" stroke-width="1"/>
<rect x="534.0" y="222.2" width="3" height="30.7" fill="#3cb43c"/>
<rect x="534.5" y="222.2" width="2" height="30.7" fill="#14ec14"/>
<line x1="538.5" y1="216.5" x2="538.5" y2="242.9" stroke="#505050" stroke-width="1"/>
<rect x="537.0" y="222.2" width="3" height="19.4" fill="#d02828"/>
<rect x="537.5" y="222.2" width="2" height="19.4" fill="#ff0000"/>
<line x1="541.5" y1="239.8" x2="541.5" y2="255.4" stroke="#505050" stroke-width="1"/>
<rect x="540.0" y="241.6" width="3" height="8.8" fill="#d02828"/>
<rect x="540.5" y="241.6" width="2" height="8.8" fill="#ff0000"/>
<line x1="544.5" y1="244.1" x2="544.5" y2="270.5" stroke="#505050" stroke-width="1"/>
<rect x="543.0" y="251.7" width="3" height="17.6" fill="#d02828"/>
<rect x="543.5" y="251.7" width="2" height="17.6" fill="#ff0000"/>
<line x1="547.5" y1="265.5" x2="547.5" y2="283.1" stroke="#505050" stroke-width="1"/>
<rect x="546.0" y="268.0" width="3" height="13.8" fill="#d02828"/>
<rect x="546.5" y="268.0" width="2" height="13.8" fill="#ff0000"/>
<line x1="550.5" y1="271.8" x2="550.5" y2="304.5" stroke="#505050" stroke-width="1"/>
<rect x="549.0" y="275.0" width="3" height="24.4" fill="#d02828"/>
<rect x="549.5" y="275.0" width="2" height="24.4" fill="#ff0000"/>
<line x1="553.5" y1="290.6" x2="553.5" y2="314.5" stroke="#505050" stroke-width="1"/>
<rect x="552.0" y="296.9" width="3" height="6.3" fill="#d02828"/>
<rect x="552.5" y="296.9" width="2" height="6.3" fill="#ff0000"/>
<line x1="556.5" y1="296.2" x2="556.5" y2="317.0" stroke="#505050" stroke-width="1"/>
<rect x="555.0" y="302.5" width="3" height="2.0" fill="#d02828"/>
<rect x="555.5" y="302.5" width="2" height="2.0" fill="#ff0000"/>
<line x1="559.5" y1="300.7" x2="559.5" y2="320.8" stroke="#505050" stroke-width="1"/>
<rect x="558.0" y="302.0" width="3" height="15.1" fill="#d02828"/>
<rect x="558.5" y="302.0" width="2" height="15.1" fill="#ff0000"/>
<line x1="561.5" y1="310.2" x2="561.5" y2="330.3" stroke="#505050" stroke-width="1"/>
<rect x="560.0" y="315.2" width="3" height="11.3" fill="#d02828"/>
<rect x="560.5" y="315.2" width="2" height="11.3" fill="#ff0000"/>
<line x1="564.5" y1="311.4" x2="564.5" y2="326.5" stroke="#505050" stroke-width="1"/>
<rect x="563.0" y="320.2" width="3" height="5.5" fill="#d02828"/>
<rect x="563.5" y="320.2" width="2" height="5.5" fill="#ff0000"/>
<line x1="567.5" y1="315.2" x2="567.5" y2="355.4" stroke="#505050" stroke-width="1"/>
<rect x="566.0" y="316.5" width="3" height="37.7" fill="#d02828"/>
<rect x="566.5" y="316.5" width="2" height="37.7" fill="#ff0000"/>
<line x1="570.5" y1="339.1" x2="570.5" y2="369.3" stroke="#505050" stroke-width="1"/>
<rect x="569.0" y="353.4" width="3" height="2.0" fill="#3cb43c"/>
<rect x="569.5" y="353.4" width="2" height="2.0" fill="#14ec14"/>
<line x1="573.5" y1="352.9" x2="573.5" y2="379.3" stroke="#505050" stroke-width="1"/>
<rect x="572.0" y="354.2" width="3" height="22.6" fill="#d02828"/>
<rect x="572.5" y="354.2" width="2" height="22.6" fill="#ff0000"/>
<line x1="576.5" y1="371.8" x2="576.5" y2="380.6" stroke="#505050" stroke-width="1"/>
<rect x="575.0" y="375.0" width="3" height="2.5" fill="#3cb43c"/>
<rect x="575.5" y="375.0" width="2" height="2.5" fill="#14ec14"/>
<line x1="579.5" y1="360.5" x2="579.5" y2="380.6" stroke="#505050" stroke-width="1"/>
<rect x="578.0" y="361.0" width="3" height="14.6" fill="#3cb43c"/>
<rect x="578.5" y="361.0" width="2" height="14.6" fill="#14ec14"/>
<line x1="582.5" y1="352.9" x2="582.5" y2="365.5" stroke="#505050" stroke-width="1"/>
<rect x="581.0" y="354.9" width="3" height="3.0" fill="#3cb43c"/>
<rect x="581.5" y="354.9" width="2" height="3.0" fill="#14ec14"/>
<line x1="585.5" y1="337.8" x2="585.5" y2="357.9" stroke="#505050" stroke-width="1"/>
<rect x="584.0" y="344.1" width="3" height="12.6" fill="#3cb43c"/>
<rect x="584.5" y="344.1" width="2" height="12.6" fill="#14ec14"/>
<line x1="588.5" y1="336.6" x2="588.5" y2="345.4" stroke="#505050" stroke-width="1"/>
<rect x="587.0" y="339.1" width="3" height="5.0" fill="#3cb43c"/>
<rect x="587.5" y="339.1" width="2" height="5.0" fill="#14ec14"/>
<line x1="591.5" y1="340.3" x2="591.5" y2="366.7" stroke="#505050" stroke-width="1"/>
<rect x="590.0" y="342.9" width="3" height="17.6" fill="#d02828"/>
<rect x="590.5" y="342.9" width="2" height="17.6" fill="#ff0000"/>
<line x1="594.5" y1="334.1" x2="594.5" y2="373.0" stroke="#505050" stroke-width="1"/>
<rect x="593.0" y="360.5" width="3" height="11.3" fill="#d02828"/>
<rect x="593.5" y="360.5" width="2" height="11.3" fill="#ff0000"/>
<line x1="597.5" y1="344.9" x2="597.5" y2="368.0" stroke="#505050" stroke-width="1"/>
<rect x="596.0" y="348.4" width="3" height="18.4" fill="#3cb43c"/>
<rect x="596.5" y="348.4" width="2" height="18.4" fill="#14ec14"/>
<line x1="600.5" y1="344.1" x2="600.5" y2="355.4" stroke="#505050" stroke-width="1"/>
<rect x="599.0" y="347.4" width="3" height="3.0" fill="#d02828"/>
<rect x="599.5" y="347.4" width="2" height="3.0" fill="#ff0000"/>
<line x1="603.5" y1="315.2" x2="603.5" y2="346.6" stroke="#505050" stroke-width="1"/>
<rect x="602.0" y="318.2" width="3" height="27.7" fill="#3cb43c"/>
<rect x="602.5" y="318.2" width="2" height="27.7" fill="#14ec14"/>
<line x1="606.5" y1="312.7" x2="606.5" y2="349.1" stroke="#505050" stroke-width="1"/>
<rect x="605.0" y="315.2" width="3" height="30.7" fill="#d02828"/>
<rect x="605.5" y="315.2" width="2" height="30.7" fill="#ff0000"/>
<line x1="609.5" y1="322.7" x2="609.5" y2="347.4" stroke="#505050" stroke-width="1"/>
<rect x="608.0" y="325.8" width="3" height="18.9" fill="#3cb43c"/>
<rect x="608.5" y="325.8" width="2" height="18.9" fill="#14ec14"/>
<line x1="612.5" y1="321.5" x2="612.5" y2="355.4" stroke="#505050" stroke-width="1"/>
<rect x="611.0" y="323.2" width="3" height="30.9" fill="#d02828"/>
<rect x="611.5" y="323.2" width="2" height="30.9" fill="#ff0000"/>
<line x1="615.5" y1="339.1" x2="615.5" y2="357.9" stroke="#505050" stroke-width="1"/>
<rect x="614.0" y="342.9" width="3" height="12.1" fill="#3cb43c"/>
<rect x="614.5" y="342.9" width="2" height="12.1" fill="#14ec14"/>
<line x1="618.5" y1="321.5" x2="618.5" y2="341.6" stroke="#505050" stroke-width="1"/>
<rect x="617.0" y="323.2" width="3" height="14.6" fill="#3cb43c"/>
<rect x="617.5" y="323.2" width="2" height="14.6" fill="#14ec14"/>
<line x1="621.5" y1="296.3" x2="621.5" y2="329.0" stroke="#505050" stroke-width="1"/>
<rect x="620.0" y="305.1" width="3" height="17.6" fill="#3cb43c"/>
<rect x="620.5" y="305.1" width="2" height="17.6" fill="#14ec14"/>
<line x1="624.5" y1="277.5" x2="624.5" y2="301.4" stroke="#505050" stroke-width="1"/>
<rect x="623.0" y="278.2" width="3" height="17.3" fill="#3cb43c"/>
<rect x="623.5" y="278.2" width="2" height="17.3" fill="#14ec14"/>
<line x1="627.5" y1="277.0" x2="627.5" y2="305.1" stroke="#505050" stroke-width="1"/>
<rect x="626.0" y="277.7" width="3" height="21.9" fill="#d02828"/>
<rect x="626.5" y="277.7" width="2" height="21.9" fill="#ff0000"/>
<line x1="630.5" y1="284.3" x2="630.5" y2="297.6" stroke="#505050" stroke-width="1"/>
<rect x="629.0" y="285.3" width="3" height="9.8" fill="#3cb43c"/>
<rect x="629.5" y="285.3" width="2" height="9.8" fill="#14ec14"/>
<line x1="633.5" y1="296.3" x2="633.5" y2="315.2" stroke="#505050" stroke-width="1"/>
<rect x="632.0" y="297.1" width="3" height="17.6" fill="#d02828"/>
<rect x="632.5" y="297.1" width="2" height="17.6" fill="#ff0000"/>
<line x1="636.5" y1="307.7" x2="636.5" y2="316.5" stroke="#505050" stroke-width="1"/>
<rect x="635.0" y="311.4" width="3" height="1.3" fill="#d02828"/>
<rect x="635.5" y="311.4" width="2" height="1.3" fill="#ff0000"/>
<line x1="639.5" y1="313.9" x2="639.5" y2="332.8" stroke="#505050" stroke-width="1"/>
<rect x="638.0" y="315.2" width="3" height="13.8" fill="#d02828"/>
<rect x="638.5" y="315.2" width="2" height="13.8" fill="#ff0000"/>
<line x1="642.5" y1="322.7" x2="642.5" y2="365.5" stroke="#505050" stroke-width="1"/>
<rect x="641.0" y="324.0" width="3" height="37.7" fill="#d02828"/>
<rect x="641.5" y="324.0" width="2" height="37.7" fill="#ff0000"/>
<line x1="645.5" y1="346.6" x2="645.5" y2="365.5" stroke="#505050" stroke-width="1"/>
<rect x="644.0" y="361.0" width="3" height="2.5" fill="#3cb43c"/>
<rect x="644.5" y="361.0" width="2" height="2.5" fill="#14ec14"/>
<line x1="648.5" y1="350.4" x2="648.5" y2="365.5" stroke="#505050" stroke-width="1"/>
<rect x="647.0" y="358.5" width="3" height="2.0" fill="#d02828"/>
<rect x="647.5" y="358.5" width="2" height="2.0" fill="#ff0000"/>
<line x1="651.5" y1="342.9" x2="651.5" y2="368.0" stroke="#505050" stroke-width="1"/>
<rect x="650.0" y="358.5" width="3" height="1.5" fill="#3cb43c"/>
<rect x="650.5" y="358.5" width="2" height="1.5" fill="#14ec14"/>
<line x1="654.5" y1="349.1" x2="654.5" y2="369.3" stroke="#505050" stroke-width="1"/>
<rect x="653.0" y="351.7" width="3" height="8.3" fill="#3cb43c"/>
<rect x="653.5" y="351.7" width="2" height="8.3" fill="#14ec14"/>
<line x1="657.5" y1="330.3" x2="657.5" y2="352.9" stroke="#505050" stroke-width="1"/>
<rect x="656.0" y="335.3" width="3" height="10.1" fill="#3cb43c"/>
<rect x="656.5" y="335.3" width="2" height="10.1" fill="#14ec14"/>
<line x1="660.5" y1="327.8" x2="660.5" y2="347.9" stroke="#505050" stroke-width="1"/>
<rect x="659.0" y="335.3" width="3" height="7.5" fill="#d02828"/>
<rect x="659.5" y="335.3" width="2" height="7.5" fill="#ff0000"/>
<line x1="663.5" y1="334.1" x2="663.5" y2="350.4" stroke="#505050" stroke-width="1"/>
<rect x="662.0" y="342.4" width="3" height="6.8" fill="#d02828"/>
<rect x="662.5" y="342.4" width="2" height="6.8" fill="#ff0000"/>
<line x1="666.5" y1="321.5" x2="666.5" y2="351.7" stroke="#505050" stroke-width="1"/>
<rect x="665.0" y="339.3" width="3" height="11.1" fill="#3cb43c"/>
<rect x="665.5" y="339.3" width="2" height="11.1" fill="#14ec14"/>
<line x1="669.5" y1="335.3" x2="669.5" y2="359.2" stroke="#505050" stroke-width="1"/>
<rect x="668.0" y="340.3" width="3" height="18.1" fill="#d02828"/>
<rect x="668.5" y="340.3" width="2" height="18.1" fill="#ff0000"/>
<line x1="672.5" y1="358.2" x2="672.5" y2="373.5" stroke="#505050" stroke-width="1"/>
<rect x="671.0" y="364.2" width="3" height="3.0" fill="#d02828"/>
<rect x="671.5" y="364.2" width="2" height="3.0" fill="#ff0000"/>
<line x1="675.5" y1="361.5" x2="675.5" y2="380.1" stroke="#505050" stroke-width="1"/>
<rect x="674.0" y="363.2" width="3" height="1.3" fill="#3cb43c"/>
<rect x="674.5" y="363.2" width="2" height="1.3" fill="#14ec14"/>
<line x1="678.5" y1="354.2" x2="678.5" y2="369.3" stroke="#505050" stroke-width="1"/>
<rect x="677.0" y="359.2" width="3" height="9.3" fill="#d02828"/>
<rect x="677.5" y="359.2" width="2" height="9.3" fill="#ff0000"/>
<line x1="681.5" y1="354.2" x2="681.5" y2="368.0" stroke="#505050" stroke-width="1"/>
<rect x="680.0" y="360.0" width="3" height="6.8" fill="#3cb43c"/>
<rect x="680.5" y="360.0" width="2" height="6.8" fill="#14ec14"/>
<line x1="684.5" y1="340.3" x2="684.5" y2="364.2" stroke="#505050" stroke-width="1"/>
<rect x="683.0" y="344.1" width="3" height="16.3" fill="#3cb43c"/>
<rect x="683.5" y="344.1" width="2" height="16.3" fill="#14ec14"/>
<line x1="687.5" y1="312.4" x2="687.5" y2="342.6" stroke="#505050" stroke-width="1"/>
<rect x="686.0" y="316.0" width="3" height="25.9" fill="#3cb43c"/>
<rect x="686.5" y="316.0" width="2" height="25.9" fill="#14ec14"/>
<line x1="690.5" y1="315.4" x2="690.5" y2="331.1" stroke="#505050" stroke-width="1"/>
<rect x="689.0" y="316.0" width="3" height="2.4" fill="#3cb43c"/>
<rect x="689.5" y="316.0" width="2" height="2.4" fill="#14ec14"/>
<line x1="693.5" y1="317.2" x2="693.5" y2="337.8" stroke="#505050" stroke-width="1"/>
<rect x="692.0" y="318.4" width="3" height="7.8" fill="#d02828"/>
<rect x="692.5" y="318.4" width="2" height="7.8" fill="#ff0000"/>
<line x1="696.5" y1="325.7" x2="696.5" y2="347.4" stroke="#505050" stroke-width="1"/>
<rect x="695.0" y="326.3" width="3" height="20.5" fill="#d02828"/>
<rect x="695.5" y="326.3" width="2" height="20.5" fill="#ff0000"/>
<line x1="699.5" y1="310.6" x2="699.5" y2="347.4" stroke="#505050" stroke-width="1"/>
<rect x="698.0" y="311.2" width="3" height="35.6" fill="#3cb43c"/>
<rect x="698.5" y="311.2" width="2" height="35.6" fill="#14ec14"/>
<line x1="702.5" y1="287.1" x2="702.5" y2="314.2" stroke="#505050" stroke-width="1"/>
<rect x="701.0" y="298.5" width="3" height="15.1" fill="#3cb43c"/>
<rect x="701.5" y="298.5" width="2" height="15.1" fill="#14ec14"/>
<line x1="705.5" y1="284.1" x2="705.5" y2="297.3" stroke="#505050" stroke-width="1"/>
<rect x="704.0" y="291.3" width="3" height="5.4" fill="#3cb43c"/>
<rect x="704.5" y="291.3" width="2" height="5.4" fill="#14ec14"/>
<line x1="708.5" y1="287.1" x2="708.5" y2="306.4" stroke="#505050" stroke-width="1"/>
<rect x="707.0" y="290.7" width="3" height="6.0" fill="#d02828"/>
<rect x="707.5" y="290.7" width="2" height="6.0" fill="#ff0000"/>
<line x1="711.5" y1="259.0" x2="711.5" y2="291.9" stroke="#505050" stroke-width="1"/>
<rect x="710.0" y="260.2" width="3" height="31.0" fill="#3cb43c"/>
<rect x="710.5" y="260.2" width="2" height="31.0" fill="#14ec14"/>
<line x1="714.5" y1="258.3" x2="714.5" y2="266.1" stroke="#505050" stroke-width="1"/>
<rect x="713.0" y="261.5" width="3" height="1.0" fill="#3cb43c"/>
<rect x="713.5" y="261.5" width="2" height="1.0" fill="#14ec14"/>
<line x1="717.5" y1="251.2" x2="717.5" y2="266.7" stroke="#505050" stroke-width="1"/>
<rect x="716.0" y="252.5" width="3" height="7.8" fill="#3cb43c"/>
<rect x="716.5" y="252.5" width="2" height="7.8" fill="#14ec14"/>
<line x1="720.5" y1="247.3" x2="720.5" y2="259.0" stroke="#505050" stroke-width="1"/>
<rect x="719.0" y="249.3" width="3" height="9.0" fill="#d02828"/>
<rect x="719.5" y="249.3" width="2" height="9.0" fill="#ff0000"/>
<line x1="723.5" y1="255.1" x2="723.5" y2="271.9" stroke="#505050" stroke-width="1"/>
<rect x="722.0" y="255.7" width="3" height="1.9" fill="#d02828"/>
<rect x="722.5" y="255.7" width="2" height="1.9" fill="#ff0000"/>
<line x1="726.5" y1="238.3" x2="726.5" y2="269.3" stroke="#505050" stroke-width="1"/>
<rect x="725.0" y="249.3" width="3" height="9.0" fill="#3cb43c"/>
<rect x="725.5" y="249.3" width="2" height="9.0" fill="#14ec14"/>
<line x1="729.5" y1="231.8" x2="729.5" y2="243.4" stroke="#505050" stroke-width="1"/>
<rect x="728.0" y="234.4" width="3" height="8.8" fill="#3cb43c"/>
<rect x="728.5" y="234.4" width="2" height="8.8" fill="#14ec14"/>
<line x1="732.5" y1="233.1" x2="732.5" y2="238.9" stroke="#505050" stroke-width="1"/>
<rect x="731.0" y="234.4" width="3" height="3.2" fill="#d02828"/>
<rect x="731.5" y="234.4" width="2" height="3.2" fill="#ff0000"/>
<line x1="735.5" y1="234.4" x2="735.5" y2="240.9" stroke="#505050" stroke-width="1"/>
<rect x="734.0" y="238.3" width="3" height="1.0" fill="#3cb43c"/>
<rect x="734.5" y="238.3" width="2" height="1.0" fill="#14ec14"/>
<line x1="738.5" y1="239.6" x2="738.5" y2="250.5" stroke="#505050" stroke-width="1"/>
<rect x="737.0" y="246.0" width="3" height="1.0" fill="#3cb43c"/>
<rect x="737.5" y="246.0" width="2" height="1.0" fill="#14ec14"/>
<line x1="741.5" y1="243.4" x2="741.5" y2="259.0" stroke="#505050" stroke-width="1"/>
<rect x="740.0" y="248.9" width="3" height="9.4" fill="#d02828"/>
<rect x="740.5" y="248.9" width="2" height="9.4" fill="#ff0000"/>
<line x1="315.6" y1="125.7" x2="597.6" y2="404.5" stroke="#008000" stroke-width="4"/>
<polygon points="325.1,20.8 378.8,20.8 732.3,384.1 732.3,421.8 609.5,421.8 325.1,129.9" fill="#ff0000" fill-opacity="0.15"/>
<line x1="459.3" y1="269.2" x2="565.3" y2="374.0" stroke="#ffffff" stroke-opacity="0.85" stroke-width="0.8"/>
<line x1="14" y1="172.5" x2="435" y2="37" stroke="#606060" stroke-width="2.1" stroke-dasharray="4.4 3.9"/>
<line x1="14" y1="317.6" x2="745" y2="83.4" stroke="#606060" stroke-width="2.1" stroke-dasharray="4.4 3.9"/>
<line x1="48" y1="421.8" x2="783.6" y2="184.8" stroke="#606060" stroke-width="2.1" stroke-dasharray="4.4 3.9"/>
<line x1="171" y1="421.8" x2="795" y2="220.3" stroke="#606060" stroke-width="2.1" stroke-dasharray="4.4 3.9"/>
<line x1="248" y1="142" x2="453" y2="142" stroke="#606060" stroke-width="3" stroke-dasharray="4 4"/>
<line x1="429" y1="197" x2="543" y2="197" stroke="#606060" stroke-width="3" stroke-dasharray="4 4"/>
<line x1="160" y1="221.3" x2="584.5" y2="221.3" stroke="#606060" stroke-width="3" stroke-dasharray="4 4"/>
<line x1="157" y1="267.2" x2="538" y2="267.2" stroke="#606060" stroke-width="3" stroke-dasharray="4 4"/>
<line x1="648.5" y1="236.4" x2="772" y2="236.4" stroke="#606060" stroke-width="3" stroke-dasharray="4 4"/>
<line x1="621" y1="247.4" x2="744.6" y2="247.4" stroke="#606060" stroke-width="3" stroke-dasharray="4 4"/>
<line x1="615.3" y1="264.6" x2="744" y2="264.6" stroke="#606060" stroke-width="3" stroke-dasharray="4 4"/>
<line x1="609.6" y1="302.6" x2="733.3" y2="302.6" stroke="#606060" stroke-width="3" stroke-dasharray="4 4"/>
<line x1="597.3" y1="314.5" x2="722" y2="314.5" stroke="#606060" stroke-width="3" stroke-dasharray="4 4"/>
<line x1="14" y1="74.2" x2="802" y2="74.2" stroke="#ff0000" stroke-width="2" stroke-dasharray="4 4"/>
<line x1="142" y1="80" x2="806" y2="80" stroke="#ff0000" stroke-width="4" stroke-dasharray="7.5 2 1.5 2"/>
<line x1="97" y1="381.8" x2="722.8" y2="381.8" stroke="#008000" stroke-width="4"/>
<line x1="427" y1="70.3" x2="738" y2="390" stroke="#ff0000" stroke-width="4.2"/>
<polygon points="633.2,358.6 785.8,157.2 785.8,234.0 645.1,421.8 633.2,421.8" fill="#00ffff" fill-opacity="0.15"/>
<line x1="633.2" y1="358.6" x2="664.2" y2="317.7" stroke="#0000ff" stroke-width="1.4" stroke-dasharray="4 4"/>
<line x1="770.5" y1="177.4" x2="785.8" y2="157.2" stroke="#0000ff" stroke-width="1.4" stroke-dasharray="4 4"/>
<line x1="645.1" y1="421.8" x2="698.6" y2="350.4" stroke="#0000ff" stroke-width="1.4" stroke-dasharray="4 4"/>
<line x1="675.4" y1="322.7" x2="782.4" y2="181.5" stroke="#0000d0" stroke-width="2.1" stroke-dasharray="3.9 4.1"/>
<line x1="679.1" y1="330.5" x2="786.9" y2="187.8" stroke="#0000d0" stroke-width="2.1" stroke-dasharray="3.9 4.1"/>
<line x1="687.5" y1="335.9" x2="792.4" y2="193.6" stroke="#0000d0" stroke-width="2.1" stroke-dasharray="3.9 4.1"/>
<line x1="664.2" y1="317.7" x2="771.8" y2="175.7" stroke="#ff0000" stroke-width="4.3"/>
<line x1="698.6" y1="350.4" x2="806" y2="207.0" stroke="#008000" stroke-width="4.3"/>
<polygon points="732.7,227.0 696.8,274.7 777.0,274.7" fill="#ff0000" fill-opacity="0.15"/>
<line x1="710.4" y1="274.7" x2="777.7" y2="274.7" stroke="#008000" stroke-width="4"/>
<line x1="732.7" y1="227" x2="777" y2="274.7" stroke="#ff0000" stroke-width="4"/>
<text x="357.7" y="265.2" style="font-size:50.6px" textLength="54.3" lengthAdjust="spacingAndGlyphs" fill="#008000">49</text>
</g>
<polyline points="19.6,477.1 22.4,477.1 25.6,486.8 28.0,468.5 30.5,484.6 33.6,484.9 36.5,477.8 39.3,477.8 42.1,473.7 46.2,470.9 52.4,488.3 54.8,483.1 58.0,489.6 60.8,486.8 63.6,493.4 70.1,497.1 73.9,489.6 78.6,484.9 81.4,487.2 84.7,481.2 87.9,485.9 90.7,487.7 94.5,485.9 99.7,499.9 103.4,494.3 107.2,494.3 110.4,499.0 115.0,509.3 120.7,511.1 126.3,517.7 130.0,515.3 134.7,501.8 139.0,493.4 143.1,501.8 145.9,504.0 148.4,503.3 151.5,506.5 156.2,493.4 161.8,499.0 166.5,499.5 169.3,496.2 171.7,489.3 175.0,497.3 180.0,500.7 183.3,505.0 186.7,504.0 190.0,505.0 193.3,499.3 198.3,496.7 203.3,496.0 208.3,499.3 213.3,489.3 216.7,489.3 220.0,494.0 222.7,490.7 226.0,491.7 229.3,486.0 231.7,487.3 237.3,480.7 240.7,485.0 244.0,480.0 248.3,480.7 252.7,480.0 256.7,473.3 261.7,471.7 265.0,472.7 268.3,470.0 271.7,471.7 275.0,476.0 280.0,475.0 280.0,475.0 281.7,486.7 285.0,486.7 288.3,489.3 291.7,482.7 295.0,478.3 298.3,480.7 301.7,480.7 304.0,478.3 307.3,481.7 310.7,488.3 314.0,480.7 318.3,474.0 321.7,476.7 325.0,478.3 328.3,477.3 331.7,482.7 334.0,481.0 337.3,486.0 340.7,487.3 344.0,485.0 346.7,481.7 349.3,481.0 351.7,485.0 355.0,481.7 358.3,479.3 361.7,482.7 365.0,483.3 367.3,486.0 370.7,486.0 373.3,489.3 376.7,484.0 381.7,480.7 386.0,480.7 388.3,485.0 391.7,481.7 395.0,481.0 398.3,486.7 402.7,490.7 406.0,491.7 408.3,492.7 410.7,488.3 414.0,492.7 417.3,492.7 420.0,494.0 423.3,490.0 426.0,483.3 429.3,485.0 432.7,482.7 436.0,489.3 438.3,494.0 441.7,490.7 445.0,490.0 447.3,494.0 451.7,494.0 454.0,498.3 456.0,502.7 460.0,499.3 465.0,496.7 468.3,491.7 470.7,491.0 474.0,493.3 477.3,492.7 480.0,496.0 482.7,497.3 486.0,510.7 490.0,510.7 493.3,509.3 498.3,510.0 500.7,508.3 504.0,511.7 507.3,513.3 510.0,504.0 513.3,504.0 516.7,508.3 519.3,510.7 522.7,507.3 526.0,509.3 528.3,510.0 531.7,505.0 534.0,498.3 536.7,501.7 540.0,504.0 543.3,508.3 546.7,510.7 550.0,513.3 554.0,513.3 558.3,516.0 560.0,517.3 564.0,517.3 566.7,520.0 570.0,520.7 572.7,524.0 576.0,524.0 579.3,519.3 581.7,517.3 585.0,512.7 588.3,510.7 590.7,514.0 594.0,516.7 596.7,509.3 600.0,509.3 602.7,499.3 606.0,504.0 609.3,499.3 611.7,505.0 615.0,501.7 619.3,495.0 623.3,486.7 626.7,491.7 630.0,488.3 633.3,495.0 637.3,495.0 640.0,498.3 642.7,503.3 647.3,503.3 651.7,502.7 655.0,500.7 658.3,497.3 661.7,498.7 664.0,499.3 666.0,496.7 669.3,500.7 673.3,502.7 676.7,501.7 679.3,502.7 682.7,499.3 685.0,496.0 686.7,489.3 690.7,489.3 694.0,492.7 696.0,497.3 698.3,490.0 700.7,486.0 704.0,484.3 707.3,484.3 710.7,478.3 714.0,478.3 716.7,476.7 719.3,478.3 723.3,478.3 726.7,475.0 729.0,472.7 731.7,474.3 735.0,475.0 738.3,478.3 740.7,481.7" fill="none" stroke="#0000c0" stroke-width="4.2" stroke-linejoin="miter" stroke-miterlimit="2.5" stroke-linecap="butt"/>
<rect x="14" y="425.8" width="792" height="66.5" fill="#ff0000" fill-opacity="0.15"/>
<rect x="14" y="492.3" width="792" height="66.5" fill="#008000" fill-opacity="0.15"/>
<line x1="14" y1="492.3" x2="806" y2="492.3" stroke="#6b6b1a" stroke-width="1.2"/>
<text x="19.3" y="437.9" fill="#0000c0">RSI (21)</text>
<text x="14.3" y="13.2" fill="#808080" textLength="172.3">BNP PARIBAS - abcbourse.com</text>
<text x="719" y="13.2" fill="#808080">5 ANS - HEBDO</text>
<g clip-path="url(#ax)">
<text x="811.5" y="45.6" fill="#000">72.00</text>
<text x="811.5" y="86.3" fill="#000">68.00</text>
<text x="811.5" y="127.0" fill="#000">64.00</text>
<text x="811.5" y="167.8" fill="#000">60.00</text>
<text x="811.5" y="208.3" fill="#000">56.00</text>
<text x="811.5" y="248.7" fill="#000">52.00</text>
<text x="811.5" y="289.5" fill="#000">48.00</text>
<text x="811.5" y="330.0" fill="#000">44.00</text>
<text x="811.5" y="371.0" fill="#000">40.00</text>
<text x="811.5" y="411.6" fill="#000">36.00</text>
<rect x="808" y="66" width="47" height="16.5" fill="#008000"/><text x="811.5" y="78.6" fill="#fff">69.17</text>
<rect x="808" y="251.3" width="47" height="16.4" fill="#3366ff"/><text x="811.5" y="263.8" fill="#fff">50.96</text>
<rect x="808" y="410" width="47" height="16.4" fill="#c00000"/><text x="811.5" y="422.7" fill="#fff">35.27</text>
</g>
<g clip-path="url(#rx)">
<text x="811.5" y="453.7" fill="#000">80.00</text>
<text x="811.5" y="507.4" fill="#000">40.00</text>
<text x="811.5" y="559.8" fill="#000">0.000</text>
<rect x="808" y="468" width="47" height="16.7" fill="#0000c8"/><text x="811.5" y="480.7" fill="#fff">57.51</text>
</g>
<text x="102.1" y="573.9" text-anchor="middle" fill="#000">11/2015</text>
<text x="180.6" y="573.9" text-anchor="middle" fill="#000">05/2016</text>
<text x="258.3" y="573.9" text-anchor="middle" fill="#000">11/2016</text>
<text x="336.5" y="573.9" text-anchor="middle" fill="#000">05/2017</text>
<text x="414.3" y="573.9" text-anchor="middle" fill="#000">11/2017</text>
<text x="491.7" y="573.9" text-anchor="middle" fill="#000">05/2018</text>
<text x="569.1" y="573.9" text-anchor="middle" fill="#000">11/2018</text>
<text x="647.6" y="573.9" text-anchor="middle" fill="#000">05/2019</text>
<text x="725.1" y="573.9" text-anchor="middle" fill="#000">11/2019</text>
<text x="803.5" y="573.9" text-anchor="middle" fill="#000">05/2020</text>
</svg></body></html>
